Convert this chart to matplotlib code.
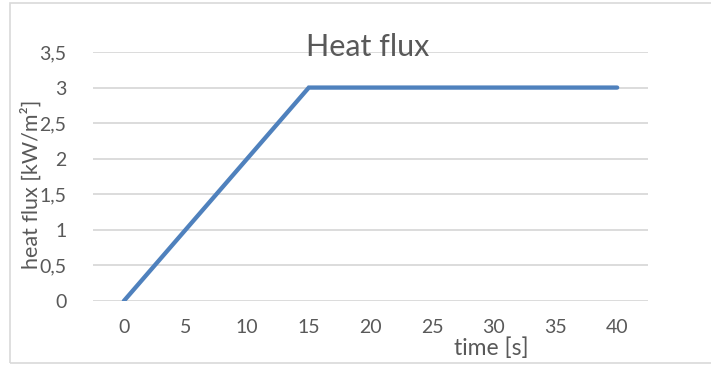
import matplotlib
matplotlib.use('Agg')
import matplotlib.pyplot as plt
from matplotlib.patches import Rectangle

# heat flux ramp: rises to 3 kW/m2 over 15 s, then holds
time_s = [0, 5, 10, 15, 20, 25, 30, 35, 40]
heat_flux = [0, 1, 2, 3, 3, 3, 3, 3, 3]
y_ticks = [0, 0.5, 1, 1.5, 2, 2.5, 3, 3.5]
y_tick_labels = ['0', '0,5', '1', '1,5', '2', '2,5', '3', '3,5']

text_color = '#595959'
plt.rcParams['font.family'] = ['Lato', 'DejaVu Sans']

fig = plt.figure(figsize=(7.11, 3.66), dpi=100)
fig.patches.append(Rectangle((10 / 711, 3 / 366), 1.0, 360 / 366, transform=fig.transFigure,
                             fill=False, edgecolor='#d9d9d9', linewidth=1.2))

ax = fig.add_axes([93 / 711, 1 - 301 / 366, 555 / 711, 249 / 366])
ax.plot(time_s, heat_flux, color='#4f81bd', linewidth=3.1, solid_capstyle='round',
        solid_joinstyle='miter', zorder=3)

ax.set_xlim(-2.5, 42.5)
ax.set_ylim(0, 3.5)
ax.set_xticks(time_s)
ax.set_yticks(y_ticks)
ax.set_yticklabels(y_tick_labels)
ax.grid(axis='y', color='#d9d9d9', linewidth=1.3)
ax.set_axisbelow(True)
for side in ax.spines.values():
    side.set_visible(False)
ax.tick_params(axis='both', length=0, labelsize=14, labelcolor=text_color)
ax.tick_params(axis='y', pad=19)
ax.tick_params(axis='x', pad=13)

fig.text(368 / 711, 1 - 47 / 366, 'Heat flux', ha='center', va='center',
         fontsize=22, color=text_color)
fig.text(491 / 711, 1 - 348 / 366, 'time [s]', ha='center', va='center',
         fontsize=16.5, color=text_color)
fig.text(31 / 711, 1 - 184 / 366, 'heat flux [kW/m²]', ha='center', va='center',
         rotation=90, fontsize=15.5, color=text_color)

fig.savefig('out.png', dpi=100)
